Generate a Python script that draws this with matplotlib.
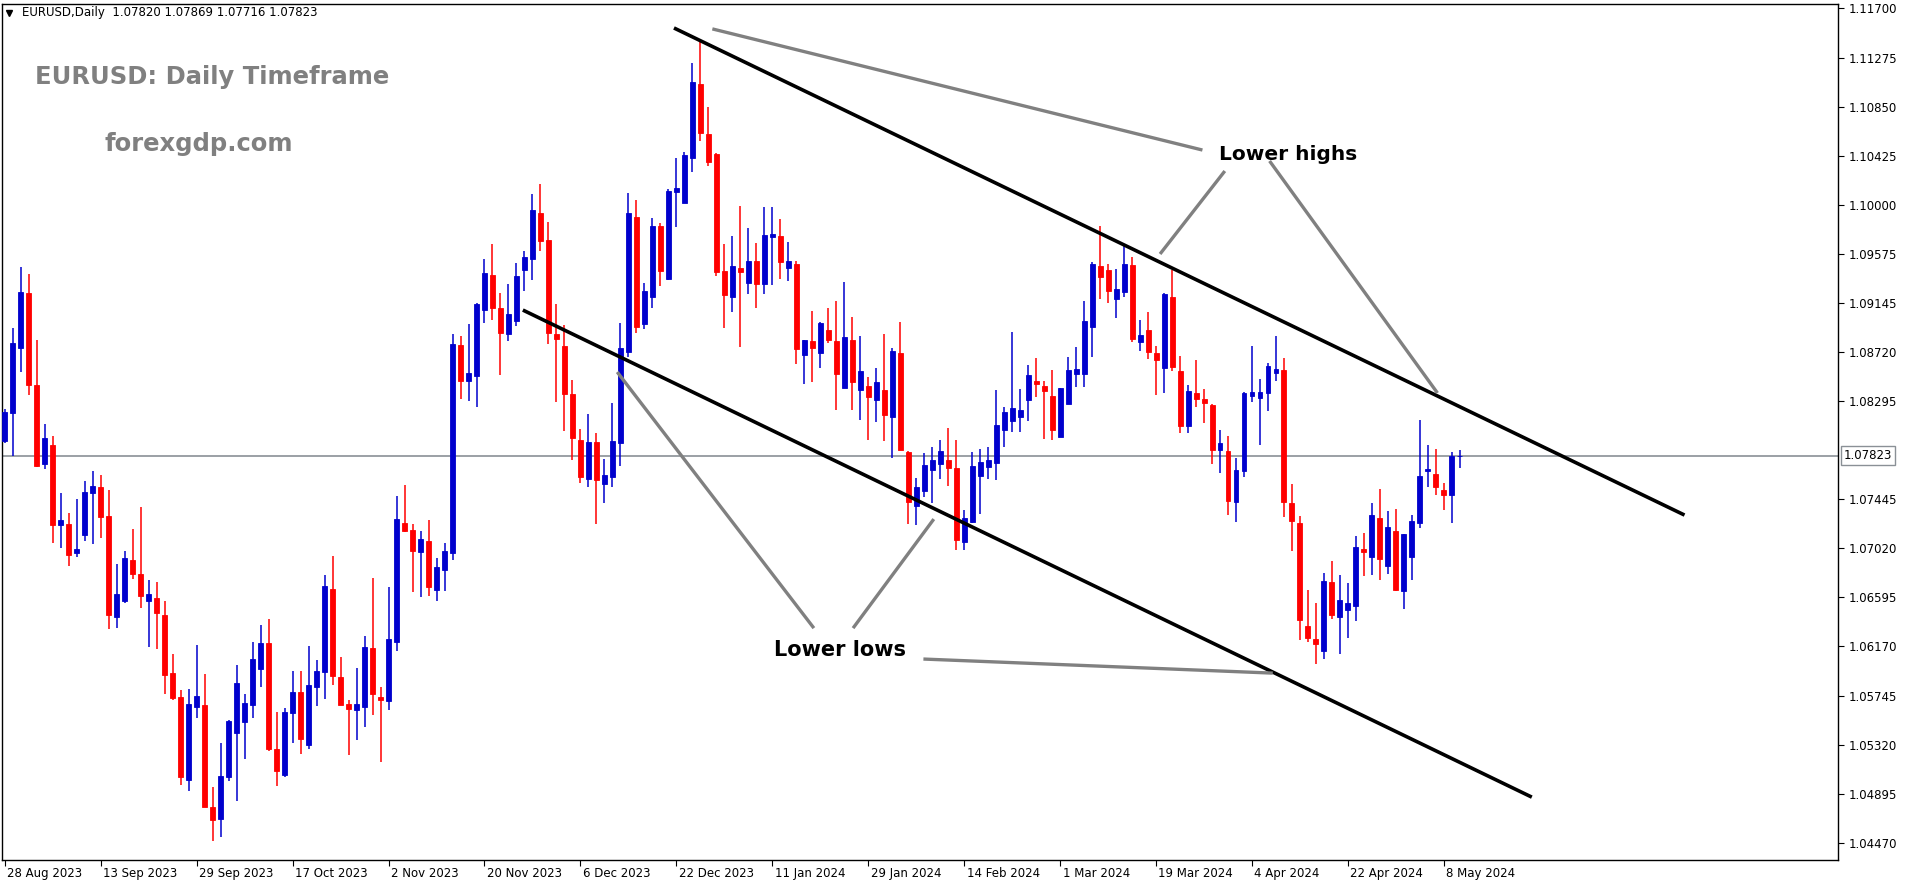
import numpy as np
import matplotlib
matplotlib.use("Agg")
import matplotlib.pyplot as plt

# daily EURUSD candles, 28 Aug 2023 -> 10 May 2024
opens = [1.07951, 1.08193, 1.08757, 1.09234, 1.08436, 1.07751, 1.07916, 1.07222, 1.07231, 1.06979,
         1.07136, 1.07500, 1.07552, 1.07300, 1.06425, 1.06563, 1.06919, 1.06797, 1.06563, 1.06589,
         1.06442, 1.05939, 1.05731, 1.05011, 1.05644, 1.05662, 1.04777, 1.04673, 1.05037, 1.05419,
         1.05514, 1.05662, 1.05974, 1.06199, 1.05280, 1.05055, 1.05592, 1.05774, 1.05315, 1.05818,
         1.05948, 1.06667, 1.05904, 1.05670, 1.05618, 1.05644, 1.06156, 1.05731, 1.05696, 1.06208,
         1.07240, 1.07179, 1.06988, 1.07084, 1.06659, 1.06832, 1.06979, 1.08783, 1.08471, 1.08514,
         1.09086, 1.09390, 1.09104, 1.08878, 1.08991, 1.09433, 1.09528, 1.09927, 1.09693, 1.08878,
         1.08774, 1.08358, 1.07959, 1.07621, 1.07942, 1.07578, 1.07638, 1.07933, 1.08722, 1.09893,
         1.08965, 1.09199, 1.09815, 1.09355, 1.10109, 1.10014, 1.10404, 1.11046, 1.10612, 1.10439,
         1.09424, 1.09199, 1.09450, 1.09320, 1.09511, 1.09312, 1.09719, 1.09728, 1.09450, 1.09485,
         1.08696, 1.08818, 1.08713, 1.08913, 1.08818, 1.08410, 1.08826, 1.08393, 1.08427, 1.08306,
         1.08393, 1.08159, 1.08713, 1.07855, 1.07387, 1.07517, 1.07699, 1.07751, 1.07786, 1.07716,
         1.07075, 1.07248, 1.07647, 1.07725, 1.07760, 1.08046, 1.08124, 1.08159, 1.08306, 1.08471,
         1.08427, 1.08341, 1.07985, 1.08271, 1.08531, 1.08531, 1.08939, 1.09468, 1.09433, 1.09182,
         1.09242, 1.09476, 1.08809, 1.08913, 1.08713, 1.08583, 1.09199, 1.08557, 1.08081, 1.08367,
         1.08315, 1.08263, 1.07873, 1.07864, 1.07422, 1.07690, 1.08341, 1.08323, 1.08367, 1.08540,
         1.08566, 1.07413, 1.07240, 1.06347, 1.06234, 1.06130, 1.06728, 1.06425, 1.06485, 1.06520,
         1.07014, 1.06945, 1.07283, 1.06867, 1.07170, 1.06650, 1.06945, 1.07240, 1.07690, 1.07665,
         1.07526, 1.07483, 1.07820]
highs = [1.08228, 1.08930, 1.09459, 1.09398, 1.08826, 1.08098, 1.07994, 1.07500, 1.07326, 1.07448,
         1.07604, 1.07690, 1.07656, 1.07526, 1.06884, 1.06997, 1.07188, 1.07378, 1.06745, 1.06728,
         1.06563, 1.06104, 1.05792, 1.05800, 1.06182, 1.05930, 1.04951, 1.05332, 1.05532, 1.06009,
         1.05757, 1.06208, 1.06355, 1.06407, 1.05601, 1.05636, 1.05956, 1.05956, 1.06173, 1.06052,
         1.06789, 1.06954, 1.06078, 1.05705, 1.05982, 1.06260, 1.06763, 1.05818, 1.06685, 1.07474,
         1.07569, 1.07231, 1.07170, 1.07266, 1.06936, 1.07066, 1.08878, 1.08861, 1.08965, 1.09147,
         1.09528, 1.09659, 1.09234, 1.09312, 1.09494, 1.09598, 1.10092, 1.10179, 1.09849, 1.09138,
         1.08956, 1.08479, 1.08055, 1.08185, 1.08020, 1.07794, 1.08280, 1.08974, 1.10101, 1.10040,
         1.09320, 1.09884, 1.09841, 1.10135, 1.10404, 1.10456, 1.11228, 1.11427, 1.10846, 1.10447,
         1.09659, 1.09728, 1.09988, 1.09797, 1.09667, 1.09979, 1.09979, 1.09875, 1.09676, 1.09511,
         1.08826, 1.09078, 1.08982, 1.09104, 1.09164, 1.09329, 1.09026, 1.08861, 1.08505, 1.08583,
         1.08878, 1.08757, 1.08982, 1.07864, 1.07630, 1.07847, 1.07899, 1.07959, 1.08063, 1.07959,
         1.07352, 1.07855, 1.07881, 1.07899, 1.08393, 1.08245, 1.08896, 1.08401, 1.08609, 1.08670,
         1.08471, 1.08566, 1.08410, 1.08679, 1.08766, 1.09164, 1.09503, 1.09815, 1.09485, 1.09442,
         1.09641, 1.09546, 1.09000, 1.09069, 1.08774, 1.09234, 1.09433, 1.08687, 1.08436, 1.08653,
         1.08401, 1.08271, 1.08046, 1.07994, 1.07803, 1.08375, 1.08774, 1.08488, 1.08627, 1.08861,
         1.08670, 1.07578, 1.07300, 1.06659, 1.06546, 1.06806, 1.06910, 1.06789, 1.06719, 1.07127,
         1.07153, 1.07413, 1.07534, 1.07344, 1.07361, 1.07144, 1.07309, 1.08133, 1.07916, 1.07881,
         1.07586, 1.07855, 1.07869]
lows = [1.07933, 1.07821, 1.08549, 1.08349, 1.07725, 1.07708, 1.07066, 1.07023, 1.06867, 1.06945,
        1.07084, 1.07058, 1.07110, 1.06321, 1.06329, 1.06546, 1.06754, 1.06503, 1.06165, 1.06147,
        1.05757, 1.05705, 1.04968, 1.04916, 1.05549, 1.04777, 1.04483, 1.04517, 1.05003, 1.04829,
        1.05194, 1.05549, 1.05818, 1.05263, 1.04959, 1.05037, 1.05332, 1.05237, 1.05280, 1.05653,
        1.05714, 1.05835, 1.05662, 1.05228, 1.05358, 1.05471, 1.05575, 1.05168, 1.05618, 1.06130,
        1.07162, 1.06641, 1.06598, 1.06607, 1.06563, 1.06650, 1.06919, 1.08315, 1.08297, 1.08245,
        1.08974, 1.09000, 1.08523, 1.08818, 1.08948, 1.09251, 1.09346, 1.09598, 1.08792, 1.08289,
        1.08037, 1.07786, 1.07586, 1.07552, 1.07231, 1.07413, 1.07552, 1.07734, 1.08679, 1.08887,
        1.08922, 1.09104, 1.09294, 1.09346, 1.09806, 1.10014, 1.10283, 1.10552, 1.10335, 1.09381,
        1.08930, 1.09069, 1.08766, 1.09225, 1.09104, 1.09225, 1.09303, 1.09355, 1.09338, 1.08618,
        1.08445, 1.08462, 1.08583, 1.08800, 1.08219, 1.08410, 1.08219, 1.08133, 1.07959, 1.08115,
        1.07951, 1.07803, 1.07873, 1.07231, 1.07222, 1.07465, 1.07413, 1.07621, 1.07560, 1.07006,
        1.07006, 1.07240, 1.07318, 1.07621, 1.07612, 1.07899, 1.08029, 1.08029, 1.08124, 1.08332,
        1.07968, 1.07959, 1.07985, 1.08271, 1.08419, 1.08419, 1.08679, 1.09182, 1.09147, 1.09017,
        1.09199, 1.08809, 1.08731, 1.08661, 1.08349, 1.08367, 1.08557, 1.08020, 1.08020, 1.08245,
        1.08107, 1.07751, 1.07673, 1.07309, 1.07248, 1.07638, 1.08289, 1.07916, 1.08211, 1.08471,
        1.07292, 1.06997, 1.06225, 1.06208, 1.06017, 1.06061, 1.06407, 1.06104, 1.06243, 1.06390,
        1.06780, 1.06789, 1.06745, 1.06797, 1.06650, 1.06494, 1.06745, 1.07196, 1.07552, 1.07483,
        1.07352, 1.07240, 1.07716]
closes = [1.08202, 1.08800, 1.09242, 1.08436, 1.07734, 1.07977, 1.07222, 1.07266, 1.06962, 1.07014,
          1.07508, 1.07560, 1.07292, 1.06442, 1.06624, 1.06936, 1.06797, 1.06607, 1.06624, 1.06459,
          1.05922, 1.05722, 1.05037, 1.05670, 1.05740, 1.04777, 1.04665, 1.05046, 1.05523, 1.05852,
          1.05679, 1.06061, 1.06199, 1.05280, 1.05089, 1.05601, 1.05774, 1.05367, 1.05835, 1.05956,
          1.06693, 1.05913, 1.05662, 1.05627, 1.05670, 1.06165, 1.05757, 1.05705, 1.06234, 1.07274,
          1.07170, 1.06997, 1.07101, 1.06685, 1.06858, 1.06997, 1.08792, 1.08471, 1.08540, 1.09138,
          1.09407, 1.09104, 1.08887, 1.09052, 1.09381, 1.09546, 1.09953, 1.09685, 1.08887, 1.08835,
          1.08358, 1.07977, 1.07638, 1.07942, 1.07612, 1.07656, 1.07951, 1.08757, 1.09927, 1.08939,
          1.09251, 1.09815, 1.09424, 1.10118, 1.10144, 1.10430, 1.11063, 1.10621, 1.10369, 1.09416,
          1.09216, 1.09468, 1.09416, 1.09511, 1.09312, 1.09737, 1.09745, 1.09503, 1.09511, 1.08748,
          1.08826, 1.08757, 1.08974, 1.08826, 1.08531, 1.08852, 1.08462, 1.08557, 1.08332, 1.08462,
          1.08176, 1.08731, 1.07873, 1.07422, 1.07552, 1.07742, 1.07786, 1.07864, 1.07716, 1.07092,
          1.07283, 1.07734, 1.07769, 1.07786, 1.08089, 1.08202, 1.08237, 1.08219, 1.08523, 1.08445,
          1.08384, 1.08046, 1.08410, 1.08566, 1.08575, 1.08991, 1.09485, 1.09372, 1.09251, 1.09268,
          1.09485, 1.08835, 1.08870, 1.08722, 1.08653, 1.09225, 1.08592, 1.08081, 1.08384, 1.08315,
          1.08280, 1.07873, 1.07933, 1.07430, 1.07699, 1.08367, 1.08375, 1.08375, 1.08601, 1.08575,
          1.07422, 1.07257, 1.06399, 1.06243, 1.06191, 1.06737, 1.06442, 1.06572, 1.06546, 1.07032,
          1.06988, 1.07309, 1.06927, 1.07205, 1.06659, 1.07144, 1.07257, 1.07647, 1.07708, 1.07552,
          1.07483, 1.07821, 1.07823]

date_labels = ["28 Aug 2023", "13 Sep 2023", "29 Sep 2023", "17 Oct 2023", "2 Nov 2023",
               "20 Nov 2023", "6 Dec 2023", "22 Dec 2023", "11 Jan 2024", "29 Jan 2024",
               "14 Feb 2024", "1 Mar 2024", "19 Mar 2024", "4 Apr 2024", "22 Apr 2024", "8 May 2024"]
label_step = 12  # bars between date labels
price_ticks = [1.11700, 1.11275, 1.10850, 1.10425, 1.10000, 1.09575, 1.09145, 1.08720, 1.08295,
               1.07445, 1.07020, 1.06595, 1.06170, 1.05745, 1.05320, 1.04895, 1.04470]
last_price = 1.07823

# drawn trend lines (bar index, price)
channel_upper = [(83.7, 1.11531), (210.1, 1.07309)]
channel_lower = [(64.8, 1.09086), (191.0, 1.04864)]
pointers = [[(88.5, 1.11523), (149.8, 1.10473)],
            [(152.6, 1.10291), (144.5, 1.09572)],
            [(158.2, 1.10378), (179.2, 1.08367)],
            [(76.6, 1.08549), (101.2, 1.06329)],
            [(106.1, 1.06329), (116.2, 1.07274)],
            [(114.9, 1.06061), (158.6, 1.05939)]]

o = np.array(opens); h = np.array(highs); l = np.array(lows); c = np.array(closes)
idx = np.arange(len(o))
up = c >= o
colors = np.where(up, "#0000CD", "#FF0000")

fig = plt.figure(figsize=(19.14, 8.84), dpi=100)
ax = fig.add_axes([0.0008, 0.027, 0.9595, 0.9685])

ax.axhline(last_price, color="#8a9096", lw=1.2, zorder=1)
ax.vlines(idx, l, h, colors=colors, lw=1.1, zorder=2)
body_low = np.minimum(o, c)
body_h = np.maximum(np.abs(c - o), 0.00004)
ax.bar(idx, body_h, bottom=body_low, width=0.62, color=colors, edgecolor=colors, lw=0.6, zorder=3)

for (x0, y0), (x1, y1) in [channel_upper, channel_lower]:
    ax.plot([x0, x1], [y0, y1], color="black", lw=2.6, zorder=4, solid_capstyle="butt")
for (x0, y0), (x1, y1) in pointers:
    ax.plot([x0, x1], [y0, y1], color="#808080", lw=2.4, zorder=4, solid_capstyle="butt")

ax.text(160.5, 1.10430, "Lower highs", fontsize=14.5, fontweight="bold", ha="center", va="center")
ax.text(104.5, 1.06139, "Lower lows", fontsize=15, fontweight="bold", ha="center", va="center")
ax.text(0.018, 0.915, "EURUSD: Daily Timeframe", transform=ax.transAxes, fontsize=17.5,
        fontweight="bold", color="#808080", va="center")
ax.text(0.056, 0.836, "forexgdp.com", transform=ax.transAxes, fontsize=17.5,
        fontweight="bold", color="#808080", va="center")
ax.text(0.011, 0.990, "EURUSD,Daily  1.07820 1.07869 1.07716 1.07823", transform=ax.transAxes,
        fontsize=8.5, va="center")
ax.plot([0.004], [0.990], marker="v", ms=5, color="black", transform=ax.transAxes)

ax.set_xlim(-0.41, 229.3)
ax.set_ylim(1.04318, 1.11739)

ax.yaxis.tick_right()
ax.set_yticks(price_ticks)
ax.set_yticklabels([f"{p:.5f}" for p in price_ticks], fontsize=8.5)
ax.tick_params(axis="y", length=4, pad=4)
ax.text(1.003, last_price, f"{last_price:.5f}", transform=ax.get_yaxis_transform(),
        fontsize=8.5, va="center", ha="left",
        bbox=dict(boxstyle="square,pad=0.25", fc="white", ec="#8a9096", lw=1))

tick_pos = np.arange(len(date_labels)) * label_step
ax.set_xticks(tick_pos)
ax.set_xticklabels([])
ax.tick_params(axis="x", length=4)
for pos, lab in zip(tick_pos, date_labels):
    ax.text(pos + 0.3, -0.008, lab, transform=ax.get_xaxis_transform(), fontsize=8.5,
            ha="left", va="top")

for sp in ax.spines.values():
    sp.set_color("black")
    sp.set_linewidth(1)

fig.savefig("out.png", dpi=100, facecolor="white")
